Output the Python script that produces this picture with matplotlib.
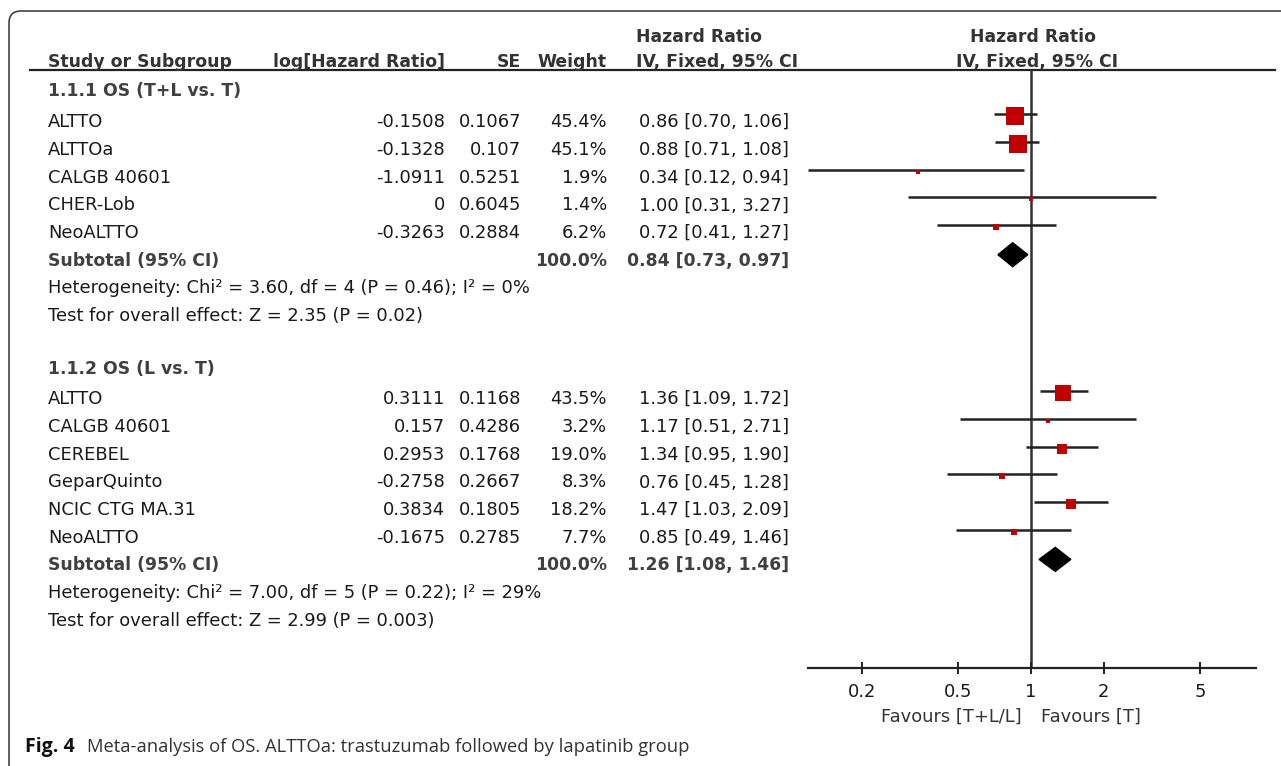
import matplotlib
matplotlib.use("Agg")
import matplotlib.pyplot as plt
from matplotlib.patches import Polygon, FancyBboxPatch

plt.rcParams["font.family"] = ["DejaVu Sans"]

# ---- data -----------------------------------------------------------------
g1_title = "1.1.1 OS (T+L vs. T)"
g1_names = ["ALTTO", "ALTTOa", "CALGB 40601", "CHER-Lob", "NeoALTTO"]
g1_loghr = [-0.1508, -0.1328, -1.0911, 0, -0.3263]
g1_se = [0.1067, 0.107, 0.5251, 0.6045, 0.2884]
g1_weight = [45.4, 45.1, 1.9, 1.4, 6.2]
g1_hr = [0.86, 0.88, 0.34, 1.00, 0.72]
g1_lo = [0.70, 0.71, 0.12, 0.31, 0.41]
g1_hi = [1.06, 1.08, 0.94, 3.27, 1.27]
g1_total = [0.84, 0.73, 0.97]
g1_total_weight = 100.0
g1_het = "Heterogeneity: Chi² = 3.60, df = 4 (P = 0.46); I² = 0%"
g1_test = "Test for overall effect: Z = 2.35 (P = 0.02)"

g2_title = "1.1.2 OS (L vs. T)"
g2_names = ["ALTTO", "CALGB 40601", "CEREBEL", "GeparQuinto", "NCIC CTG MA.31", "NeoALTTO"]
g2_loghr = [0.3111, 0.157, 0.2953, -0.2758, 0.3834, -0.1675]
g2_se = [0.1168, 0.4286, 0.1768, 0.2667, 0.1805, 0.2785]
g2_weight = [43.5, 3.2, 19.0, 8.3, 18.2, 7.7]
g2_hr = [1.36, 1.17, 1.34, 0.76, 1.47, 0.85]
g2_lo = [1.09, 0.51, 0.95, 0.45, 1.03, 0.49]
g2_hi = [1.72, 2.71, 1.90, 1.28, 2.09, 1.46]
g2_total = [1.26, 1.08, 1.46]
g2_total_weight = 100.0
g2_het = "Heterogeneity: Chi² = 7.00, df = 5 (P = 0.22); I² = 29%"
g2_test = "Test for overall effect: Z = 2.99 (P = 0.003)"

ticks = [0.2, 0.5, 1, 2, 5]
tick_labels = ["0.2", "0.5", "1", "2", "5"]

# ---- layout (pixels) --------------------------------------------------------
W, H = 1281, 766
FS = 12.85     # regular text
FB = 12.4      # bold text
TXT = "#1a1a1a"
BOLD = "#404040"
HEAD = "#333333"
RED = "#c00000"
Y0, STEP = 99.5, 27.7
X_NAME, X_LOG, X_SE, X_W, X_CI = 48, 445, 521, 607, 789

fig = plt.figure(figsize=(W / 100, H / 100), dpi=100)
bg = fig.add_axes([0, 0, 1, 1])
bg.set_xlim(0, W); bg.set_ylim(H, 0); bg.axis("off")

# forest axes: x from 808 to 1256 px, y from 70 to 668 px
fx0, fx1, fy0, fy1 = 808, 1256, 70, 668
fa = fig.add_axes([fx0 / W, 1 - fy1 / H, (fx1 - fx0) / W, (fy1 - fy0) / H])
fa.set_xscale("log")
fa.set_xlim(10 ** ((fx0 - 1031) / 242), 10 ** ((fx1 - 1031) / 242))
fa.set_ylim(fy1, fy0)
fa.patch.set_alpha(0)
for s in ["top", "left", "right"]:
    fa.spines[s].set_visible(False)
fa.spines["bottom"].set_linewidth(1.6)
fa.spines["bottom"].set_color("#222")
fa.set_yticks([])
fa.set_xticks(ticks)
fa.set_xticklabels(tick_labels)
fa.minorticks_off()
fa.tick_params(axis="x", direction="inout", length=8, width=1.4, color="#222",
               labelsize=FS, labelcolor=TXT, pad=7)
fa.axvline(1, color="#333", lw=1.8, zorder=1)

# border
bg.add_patch(FancyBboxPatch((9, 11), 1300, 775, boxstyle="round,pad=0,rounding_size=12",
                            fill=False, lw=1.1, ec="#333", clip_on=False))

# header
hy = 67
for x, s, ha in [(X_NAME, "Study or Subgroup", "left"), (X_LOG, "log[Hazard Ratio]", "right"),
                 (X_SE, "SE", "right"), (X_W, "Weight", "right")]:
    bg.text(x, hy, s, ha=ha, va="baseline", fontsize=FB, fontweight="bold", color=HEAD)
bg.text(636, 42, "Hazard Ratio", ha="left", va="baseline", fontsize=FB, fontweight="bold", color=HEAD)
bg.text(636, hy, "IV, Fixed, 95% CI", ha="left", va="baseline", fontsize=FB, fontweight="bold", color=HEAD)
bg.text(1033, 42, "Hazard Ratio", ha="center", va="baseline", fontsize=FB, fontweight="bold", color=HEAD)
bg.text(1037, hy, "IV, Fixed, 95% CI", ha="center", va="baseline", fontsize=FB, fontweight="bold", color=HEAD)
bg.plot([30, 1275], [70, 70], color="#222", lw=1.6)


def draw_group(r0, title, names, loghr, se, weight, hr, lo, hi, total, total_w, het, test):
    y = Y0 + r0 * STEP - 3
    bg.text(X_NAME, y, title, va="baseline", fontsize=FB, fontweight="bold", color=BOLD)
    for i, name in enumerate(names):
        y = Y0 + (r0 + 1 + i) * STEP
        bg.text(X_NAME, y, name, va="baseline", fontsize=FS, color=TXT)
        bg.text(X_LOG, y, f"{loghr[i]:g}", ha="right", va="baseline", fontsize=FS, color=TXT)
        bg.text(X_SE, y, f"{se[i]:g}", ha="right", va="baseline", fontsize=FS, color=TXT)
        bg.text(X_W, y, f"{weight[i]:.1f}%", ha="right", va="baseline", fontsize=FS, color=TXT)
        bg.text(X_CI, y, f"{hr[i]:.2f} [{lo[i]:.2f}, {hi[i]:.2f}]", ha="right", va="baseline",
                fontsize=FS, color=TXT)
        fa.hlines(y - 13, lo[i], hi[i], color="#222", lw=1.8, zorder=2)
        side = 4 + 0.29 * weight[i]
        fa.plot(hr[i], y - 11, marker="s", ms=side * 0.72, color=RED, mec=RED, mew=0, zorder=3)
    y = Y0 + (r0 + 1 + len(names)) * STEP
    bg.text(X_NAME, y, "Subtotal (95% CI)", va="baseline", fontsize=FB, fontweight="bold", color=BOLD)
    bg.text(X_W, y, f"{total_w:.1f}%", ha="right", va="baseline", fontsize=FB,
            fontweight="bold", color=BOLD)
    bg.text(X_CI, y, f"{total[0]:.2f} [{total[1]:.2f}, {total[2]:.2f}]", ha="right", va="baseline",
            fontsize=FB, fontweight="bold", color=BOLD)
    yc = y - 11
    fa.add_patch(Polygon([(total[1], yc), (total[0], yc - 12), (total[2], yc), (total[0], yc + 12)],
                         closed=True, color="black", zorder=3))
    bg.text(X_NAME, y + STEP, het, va="baseline", fontsize=FS, color=TXT)
    bg.text(X_NAME, y + 2 * STEP, test, va="baseline", fontsize=FS, color=TXT)


draw_group(0, g1_title, g1_names, g1_loghr, g1_se, g1_weight, g1_hr, g1_lo, g1_hi,
           g1_total, g1_total_weight, g1_het, g1_test)
draw_group(10, g2_title, g2_names, g2_loghr, g2_se, g2_weight, g2_hr, g2_lo, g2_hi,
           g2_total, g2_total_weight, g2_het, g2_test)

# favours labels
bg.text(1022, 722, "Favours [T+L/L]", ha="right", va="baseline", fontsize=FS, color=HEAD)
bg.text(1041, 722, "Favours [T]", ha="left", va="baseline", fontsize=FS, color=HEAD)

# caption
bg.text(25, 752, "Fig. 4", ha="left", va="baseline", fontsize=14, fontweight="bold",
        color="#111", family="Open Sans")
bg.text(87, 752, "Meta-analysis of OS. ALTTOa: trastuzumab followed by lapatinib group",
        ha="left", va="baseline", fontsize=13.2, color="#333", family="Open Sans")

fig.savefig("out.png", dpi=100)
